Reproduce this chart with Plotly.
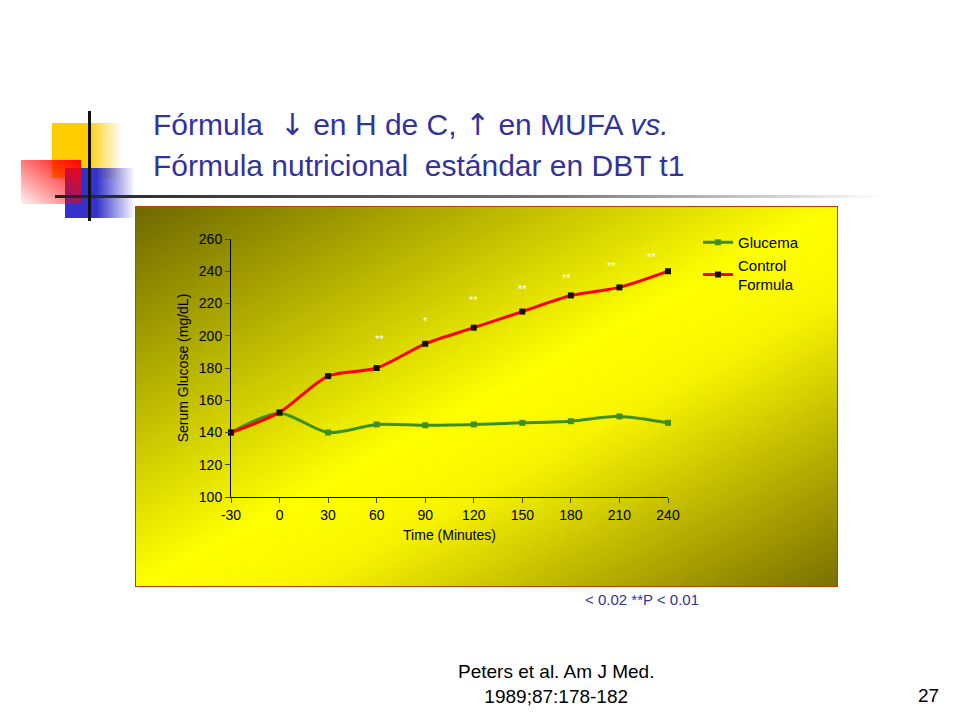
import plotly.graph_objects as go
import base64

time_min = [-30, 0, 30, 60, 90, 120, 150, 180, 210, 240]
time_labels = ["-30", "0", "30", "60", "90", "120", "150", "180", "210", "240"]
glucema = [140, 152, 140, 145, 144.5, 145, 146, 147, 150, 146]
control = [140, 152.5, 175, 180, 195, 205, 215, 225, 230, 240]
sig_x = [62, 90, 120, 150, 177, 205, 230]
sig_y = [198, 209, 222, 229, 236, 243, 249]
sig_txt = ["**", "*", "**", "**", "**", "**", "**"]
y_ticks = [100, 120, 140, 160, 180, 200, 220, 240, 260]

svg = """<svg xmlns='http://www.w3.org/2000/svg' width='960' height='720' viewBox='0 0 960 720'>
<defs>
<linearGradient id='p' x1='0' y1='0' x2='1' y2='1'>
<stop offset='0' stop-color='#6e6800'/><stop offset='0.5' stop-color='#ffff00'/><stop offset='0.62' stop-color='#f8f400'/><stop offset='1' stop-color='#7a7000'/></linearGradient>
<linearGradient id='yl' x1='0' y1='0' x2='1' y2='0'><stop offset='0.5' stop-color='#ffcc00'/><stop offset='1' stop-color='#ffcc00' stop-opacity='0'/></linearGradient>
<linearGradient id='rd' x1='1' y1='0' x2='0' y2='1'><stop offset='0' stop-color='#ff0000'/><stop offset='1' stop-color='#ff0000' stop-opacity='0.05'/></linearGradient>
<linearGradient id='bl' x1='0' y1='0' x2='1' y2='0'><stop offset='0.45' stop-color='#3333cc'/><stop offset='1' stop-color='#3333cc' stop-opacity='0'/></linearGradient>
<linearGradient id='ln' x1='0' y1='0' x2='1' y2='0'><stop offset='0' stop-color='#222'/><stop offset='0.6' stop-color='#777'/><stop offset='1' stop-color='#777' stop-opacity='0'/></linearGradient>
</defs>
<rect x='44' y='115' width='70' height='55' fill='url(#yl)'/>
<rect x='57' y='160' width='70' height='50' fill='url(#bl)'/>
<rect x='13' y='152' width='60' height='44' fill='url(#rd)'/>
<rect x='47' y='187' width='830' height='3' fill='url(#ln)'/>
<rect x='80' y='103' width='3' height='110' fill='#111'/>
<rect x='127.5' y='198.5' width='702' height='380' fill='url(#p)' stroke='#c04000' stroke-width='1'/>
</svg>"""
uri = "data:image/svg+xml;base64," + base64.b64encode(svg.encode()).decode()

fig = go.Figure()
fig.add_trace(go.Scatter(x=time_min, y=glucema, name="Glucema", mode="lines+markers",
    line=dict(color="#3f8f1f", width=3, shape="spline", smoothing=0.8),
    marker=dict(symbol="square", size=6, color="#3f8f1f"), cliponaxis=False))
fig.add_trace(go.Scatter(x=time_min, y=control, name="Control<br>Formula", mode="lines+markers",
    line=dict(color="#ff0000", width=3, shape="spline", smoothing=0.8),
    marker=dict(symbol="square", size=6, color="#111"), cliponaxis=False))

for x, y, t in zip(sig_x, sig_y, sig_txt):
    fig.add_annotation(x=x, y=y, text=t, showarrow=False, font=dict(color="white", size=11))

fnt = "Liberation Sans Narrow, Liberation Sans, Arial"
fig.update_layout(
    width=960, height=720, margin=dict(l=0, r=0, t=0, b=0),
    paper_bgcolor="white", plot_bgcolor="rgba(0,0,0,0)",
    font=dict(family=fnt, color="black", size=14),
    images=[dict(source=uri, xref="paper", yref="paper", x=0, y=1, sizex=1, sizey=1,
                 sizing="stretch", layer="below", xanchor="left", yanchor="top")],
    xaxis=dict(domain=[223/960, 660/960], range=[-30, 240], tickvals=time_min, ticktext=time_labels,
               showgrid=False, automargin=False,
               zeroline=False, showline=True, linecolor="black", ticks="outside", ticklen=5,
               tickfont=dict(size=14), title=dict(text="Time (Minutes)", font=dict(size=14), standoff=8)),
    yaxis=dict(domain=[1-489/720, 1-231/720], range=[100, 260], tickvals=y_ticks, showgrid=False,
               automargin=False,
               zeroline=False, showline=True, linecolor="black", ticks="outside", ticklen=5,
               tickfont=dict(size=14), title=dict(text="Serum Glucose (mg/dL)", font=dict(size=14), standoff=6)),
    legend=dict(x=690/960, y=1-218/720, xanchor="left", yanchor="top", bgcolor="rgba(0,0,0,0)",
                font=dict(size=15), tracegroupgap=14, itemwidth=30),
    showlegend=True,
)

blue = "#333399"
tf = "Liberation Sans, Arial"
arr = "<span style='font-family:DejaVu Sans'>%s</span>"
fig.add_annotation(xref="paper", yref="paper", x=143/960, y=1-117/720, xanchor="left", yanchor="middle",
    text="Fórmula  " + arr % "↓" + " en H de C, " + arr % "↑" + " en MUFA <i>vs.</i>",
    showarrow=False, font=dict(family=tf, size=30, color=blue))
fig.add_annotation(xref="paper", yref="paper", x=143/960, y=1-157/720, xanchor="left", yanchor="middle",
    text="Fórmula nutricional  estándar en DBT t1", showarrow=False, font=dict(family=tf, size=30, color=blue))
fig.add_annotation(xref="paper", yref="paper", x=575/960, y=1-591/720, xanchor="left", yanchor="middle",
    text="< 0.02 **P < 0.01", showarrow=False, font=dict(family=tf, size=15, color=blue))
fig.add_annotation(xref="paper", yref="paper", x=548/960, y=1-676/720, xanchor="center", yanchor="middle",
    text="Peters et al. Am J Med.<br>1989;87:178-182", showarrow=False, font=dict(family=tf, size=19, color="black"))
fig.add_annotation(xref="paper", yref="paper", x=920/960, y=1-687/720, xanchor="center", yanchor="middle",
    text="27", showarrow=False, font=dict(family=tf, size=19, color="black"))

fig.write_html("out.html")
